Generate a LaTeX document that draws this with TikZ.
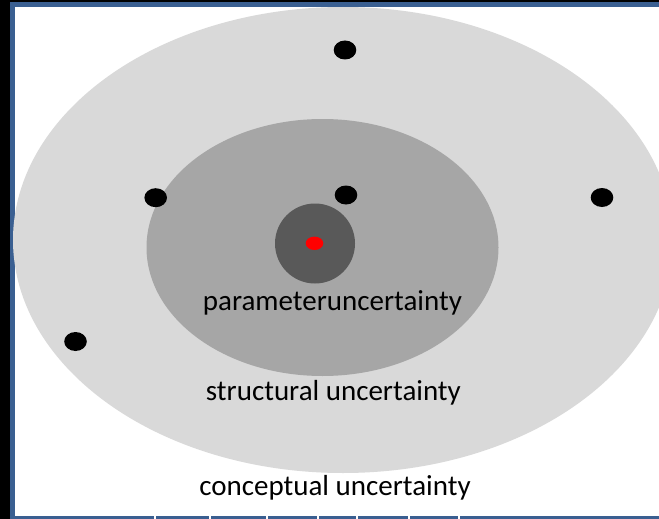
\documentclass[tikz,border=0pt]{standalone}
\usepackage{fontspec}
\setmainfont{Carlito}
\usetikzlibrary{shapes.geometric}
\definecolor{slideblue}{RGB}{58,95,145}
\definecolor{outergray}{RGB}{217,217,217}
\definecolor{midgray}{RGB}{166,166,166}
\definecolor{innergray}{RGB}{89,89,89}
\tikzset{
  blob/.style={ellipse, inner sep=0pt, draw=none},
  blackdot/.style={blob, fill=black, minimum width=22.6pt, minimum height=19pt},
  lbl/.style={anchor=base, inner sep=0pt, font=\fontsize{29}{34}\selectfont, text=black}
}
\begin{document}
\begin{tikzpicture}[x=1pt,y=-1pt]
\useasboundingbox (0,0) rectangle (659,519);
\fill[black] (0,0) rectangle (659,519);
\fill[slideblue] (10,2) rectangle (659,519);
\fill[white] (15,7) rectangle (659,516);
\foreach \gx in {155,210,267,318,357,409,459}
  \fill[white] (\gx-0.8,516) rectangle (\gx+0.8,519);
\node[blob, fill=outergray, minimum width=660pt, minimum height=466pt] (outer) at (343,240) {};
\node[blob, fill=midgray, minimum width=352pt, minimum height=257pt] (middle) at (322.5,247.5) {};
\node[circle, inner sep=0pt, fill=innergray, minimum size=80pt] (inner) at (315,243.5) {};
\node[blob, fill=red, minimum width=17.6pt, minimum height=13.4pt] (core) at (314.5,243.3) {};
\node[blackdot] (d1) at (345,50) {};
\node[blackdot] (d2) at (155.7,197.7) {};
\node[blackdot] (d3) at (346,195) {};
\node[blackdot] (d4) at (602,197.5) {};
\node[blackdot] (d5) at (75.5,341.5) {};
\node[lbl] (ptext) at (332.4,310) {parameteruncertainty};
\node[lbl] (stext) at (333.4,400.5) {structural uncertainty};
\node[lbl] (ctext) at (335,495) {conceptual uncertainty};
\end{tikzpicture}
\end{document}
